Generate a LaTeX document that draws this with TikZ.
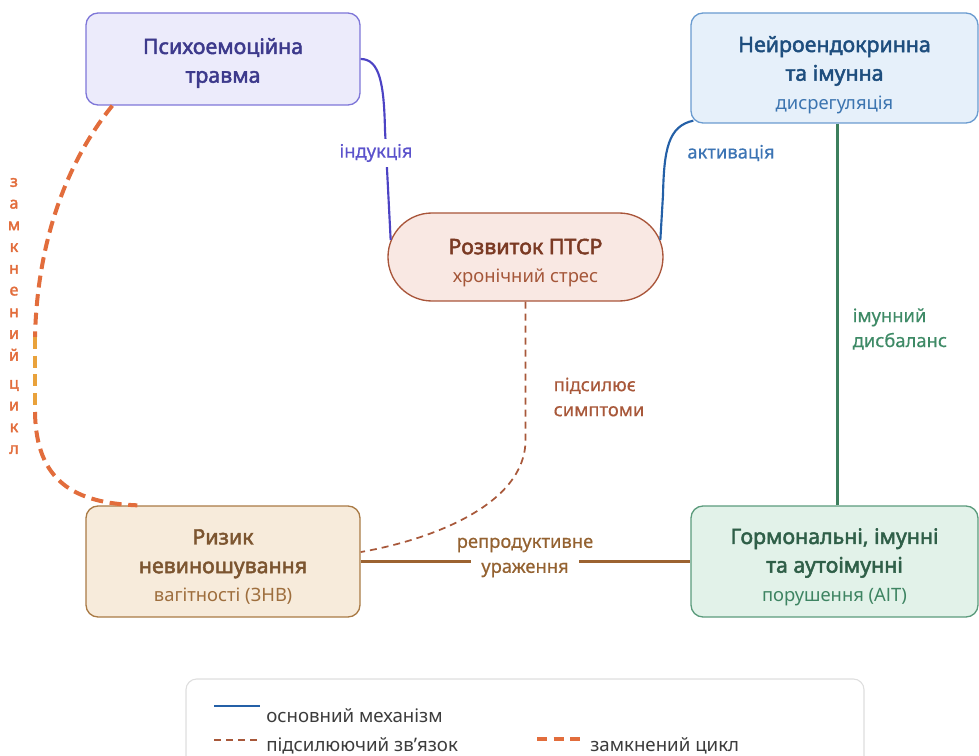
\documentclass[tikz,border=0pt]{standalone}
\usepackage{fontspec}
\setmainfont{Noto Sans}
\newfontfamily\medfont[FakeBold=0.5]{Noto Sans}
\newfontfamily\heavyfont[FakeBold=2.2]{Noto Sans}

% palette
\definecolor{psyfill}{HTML}{ECEBFB}
\definecolor{psyline}{HTML}{7E76D8}
\definecolor{psytext}{HTML}{3D3A8C}
\definecolor{indline}{HTML}{4C43C4}
\definecolor{indtext}{HTML}{5B52CC}
\definecolor{neufill}{HTML}{E6F0FA}
\definecolor{neuline}{HTML}{6A9BD0}
\definecolor{neutext}{HTML}{1E4E7E}
\definecolor{neusub}{HTML}{3B74B0}
\definecolor{actline}{HTML}{2460A7}
\definecolor{acttext}{HTML}{3C74B4}
\definecolor{ptsrfill}{HTML}{F9E8E3}
\definecolor{ptsrline}{HTML}{A9553A}
\definecolor{ptsrtext}{HTML}{7B3A24}
\definecolor{ptsrsub}{HTML}{A5573A}
\definecolor{riskfill}{HTML}{F7EBDB}
\definecolor{riskline}{HTML}{A97A45}
\definecolor{risktext}{HTML}{7C5530}
\definecolor{risksub}{HTML}{9E6E3D}
\definecolor{hormfill}{HTML}{E2F2E9}
\definecolor{hormline}{HTML}{5B9B7C}
\definecolor{hormtext}{HTML}{2F5F48}
\definecolor{hormsub}{HTML}{3E8462}
\definecolor{imline}{HTML}{3C7F5D}
\definecolor{imtext}{HTML}{3E8A66}
\definecolor{repline}{HTML}{9C6331}
\definecolor{reptext}{HTML}{946231}
\definecolor{ampline}{HTML}{A8583A}
\definecolor{amptext}{HTML}{A8583A}
\definecolor{cycorange}{HTML}{E26D3C}
\definecolor{cycyellow}{HTML}{E9A23B}
\definecolor{legborder}{HTML}{DEDEDE}
\definecolor{legtext}{HTML}{3C3C3C}

\newcommand{\subline}[2]{{\fontsize{13.8}{20}\selectfont\normalfont\color{#1}#2}}

\begin{document}
\begin{tikzpicture}[x=0.75pt,y=-0.75pt,
  card/.style={draw, rounded corners=9pt, line width=1pt},
  title/.style={align=center, font=\fontsize{16}{21.5}\selectfont\heavyfont},
  edgelabel/.style={align=left, font=\fontsize{13.8}{18.75}\selectfont\medfont},
  legendtext/.style={font=\fontsize{14}{16}\selectfont, text=legtext, inner sep=0pt},
  mainlink/.style={line width=1.6pt},
  amplink/.style={draw=ampline, line width=1.3pt, dash pattern=on 5.25pt off 3.75pt},
  cyclink/.style={draw=cycorange, line width=3pt, dash pattern=on 9pt off 5pt},
]
\useasboundingbox (0,0) rectangle (979,756);

% ---- cards ----
\node[card, fill=psyfill, draw=psyline, minimum width=205.5pt, minimum height=69pt] (psy) at (223,59) {};
\node[title, text=psytext] (psyt) at (223,63) {Психоемоційна\\травма};

\node[card, fill=neufill, draw=neuline, minimum width=215.25pt, minimum height=82.5pt] (neu) at (834.5,68) {};
\node[title, text=neutext] (neut) at (834.5,75) {Нейроендокринна\\та імунна\\\subline{neusub}{дисрегуляція}};

\node[card, fill=ptsrfill, draw=ptsrline, rounded corners=33pt, minimum width=206.25pt, minimum height=66pt] (ptsr) at (525.5,257) {};
\node[title, text=ptsrtext] (ptsrt) at (525.5,263) {Розвиток ПТСР\\\subline{ptsrsub}{хронічний стрес}};

\node[card, fill=riskfill, draw=riskline, minimum width=205.5pt, minimum height=83.25pt] (risk) at (223,561.5) {};
\node[title, text=risktext] (riskt) at (223,567) {Ризик\\невиношування\\\subline{risksub}{вагітності (ЗНВ)}};

\node[card, fill=hormfill, draw=hormline, minimum width=215.25pt, minimum height=83.25pt] (horm) at (834.5,561.5) {};
\node[title, text=hormtext] (hormt) at (834.5,567) {Гормональні, імунні\\та аутоімунні\\\subline{hormsub}{порушення (АІТ)}};

% ---- induction ----
\draw[mainlink, draw=indline] (psy.east) .. controls (380,59) and (384,85) .. (385,130)
  -- ([shift={(2.5pt,12.75pt)}]ptsr.west);
\node[edgelabel, fill=white, text=indtext, inner sep=4pt] (lind) at (376,153) {індукція};

% ---- activation ----
\draw[mainlink, draw=actline] ([shift={(2.25pt,2.25pt)}]neu.south west) .. controls (668,126) and (664,150) .. (663,195)
  -- ([shift={(-2.5pt,12.75pt)}]ptsr.east);
\node[edgelabel, text=acttext] (lact) at (731,153) {активація};

% ---- immune imbalance ----
\draw[draw=imline, line width=2.2pt] ([xshift=2.5pt]neu.south) -- ([xshift=2.5pt]horm.north);
\node[edgelabel, text=imtext, anchor=west] (limm) at (848,329) {імунний\\дисбаланс};

% ---- amplifying link ----
\draw[amplink] (ptsr.south) -- (525.5,440) .. controls (525.5,505) and (430,540) .. ([yshift=7.1pt]risk.east);
\node[edgelabel, text=amptext, anchor=west] (lsym) at (549,397) {підсилює\\симптоми};

% ---- reproductive damage ----
\draw[draw=repline, line width=2pt] (risk.east) -- (horm.west);
\node[edgelabel, text=reptext] (lrep1) at (525,545) {репродуктивне};
\node[edgelabel, fill=white, text=reptext, inner xsep=8pt, inner ysep=3pt] (lrep2) at (525,570) {ураження};

% ---- closed cycle ----
\coordinate (cycA) at (35,337);
\coordinate (cycB) at (35,412);
\draw[cyclink] ([xshift=20.25pt]psy.south west) .. controls (62,168) and (37,250) .. (cycA);
\draw[cyclink, draw=cycyellow] (cycA) -- (cycB);
\draw[cyclink] (cycB) .. controls (36,482) and (75,503) .. ([xshift=39pt]risk.north west);
\node[text=cycorange, align=center, inner sep=0pt, font=\fontsize{12}{16.3}\selectfont\heavyfont] (lcyc) at (14,316)
  {з\\а\\м\\к\\н\\е\\н\\и\\й\\[4.7pt]ц\\и\\к\\л};

% ---- legend ----
\node[draw=legborder, fill=white, rounded corners=8pt, line width=0.8pt, minimum width=508.5pt, minimum height=75pt] (legend) at (525,729) {};
\draw[mainlink, draw=actline, line width=2pt] (214,706) -- (260,706);
\node[legendtext, anchor=base west] (lg1) at (266,722) {основний механізм};
\draw[amplink] (214,740) -- (258,740);
\node[legendtext, anchor=base west] (lg2) at (266,751) {підсилюючий зв’язок};
\draw[cyclink, dash pattern=on 7.5pt off 5pt] (537,739) -- (582,739);
\node[legendtext, anchor=base west] (lg3) at (590,751) {замкнений цикл};
\end{tikzpicture}
\end{document}
